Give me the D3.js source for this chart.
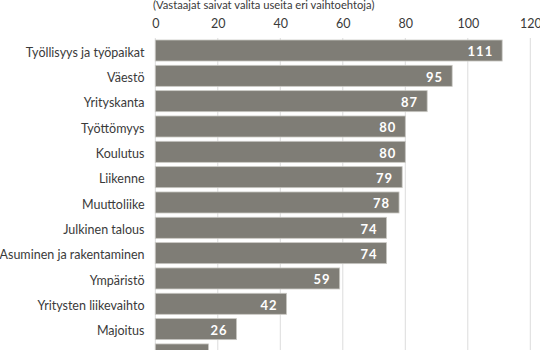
<!DOCTYPE html>
<html><head><meta charset="utf-8">
<script src="https://cdn.jsdelivr.net/npm/d3@7"></script>
<style>
body{margin:0;background:#fff;}
svg{display:block;font-family:Lato,"Liberation Sans",sans-serif;}
</style></head>
<body>
<svg id="c" width="540" height="350"></svg>
<script>
const subtitle = "(Vastaajat saivat valita useita eri vaihtoehtoja)";
const categories = ["Työllisyys ja työpaikat","Väestö","Yrityskanta","Työttömyys","Koulutus","Liikenne","Muuttoliike","Julkinen talous","Asuminen ja rakentaminen","Ympäristö","Yritysten liikevaihto","Majoitus","Tulotaso"];
const values = [111,95,87,80,80,79,78,74,74,59,42,26,17];
const ticks = [0,20,40,60,80,100,120];

const svg = d3.select("#c");
const x = d3.scaleLinear().domain([0,120]).range([155.3,530.3]);
const y = d3.scaleBand().domain(categories).range([40, 40+12*25.33+21]).paddingInner(0.17).paddingOuter(0);

svg.append("text").attr("x",153).attr("y",8.5).attr("fill","#3a3a3a")
  .style("font-size","11.2px").text(subtitle);

// gridlines
svg.append("g").selectAll("line").data(ticks).join("line")
  .attr("x1",d=>x(d)).attr("x2",d=>x(d)).attr("y1",38).attr("y2",350)
  .attr("stroke","#dcdcdc").attr("stroke-width",1);

// top axis labels
const ax = svg.append("g").attr("transform","translate(0,27.5)")
  .call(d3.axisTop(x).tickValues(ticks).tickSize(0).tickPadding(0));
ax.select(".domain").remove();
ax.selectAll("text").attr("fill","#3a3a3a").style("font-size","12.5px").style("font-family","Lato,'Liberation Sans',sans-serif");

// bars
svg.append("g").selectAll("rect").data(values).join("rect")
  .attr("x",x(0)).attr("y",(d,i)=>y(categories[i]))
  .attr("width",d=>x(d)-x(0)).attr("height",y.bandwidth())
  .attr("fill","#7f7d76").attr("stroke","#c9c8c3").attr("stroke-width",0.8);

// value labels
svg.append("g").selectAll("text").data(values).join("text")
  .attr("x",d=>x(d)-9).attr("y",(d,i)=>y(categories[i])+y.bandwidth()/2+5.8)
  .attr("text-anchor","end").attr("fill","#fff").style("font-weight","bold")
  .style("font-size","13px").style("letter-spacing","1px").text(d=>d);

// category labels
svg.append("g").selectAll("text").data(categories).join("text")
  .attr("x",144.5).attr("y",d=>y(d)+y.bandwidth()/2+6.3)
  .attr("text-anchor","end").attr("fill","#3a3a3a").style("font-size","12.5px").text(d=>d);
</script>
</body></html>
